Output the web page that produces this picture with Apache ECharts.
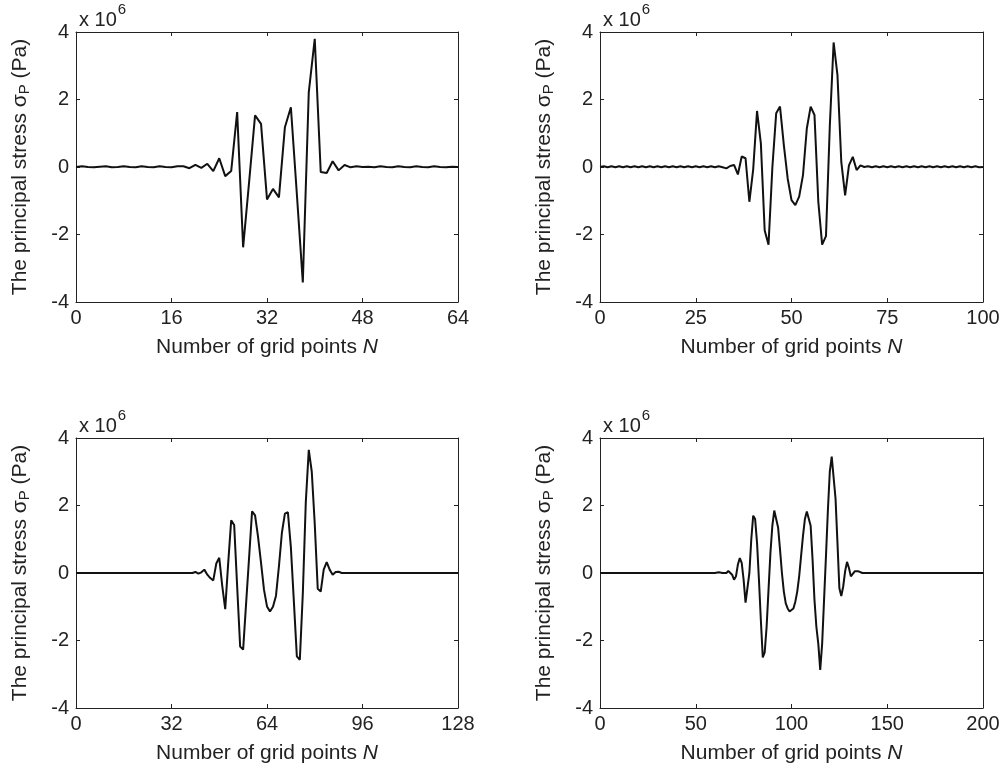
<!DOCTYPE html>
<html>
<head>
<meta charset="utf-8">
<script src="https://cdn.jsdelivr.net/npm/echarts@6/dist/echarts.min.js"></script>
<style>
html,body{margin:0;padding:0;background:#fff;}
#chart{width:1004px;height:773px;}
</style>
</head>
<body>
<div id="chart"></div>
<script>
// Values in units of 1e6 Pa, index = grid point N
const sigma64 = [
  0,0.02,0,-0.01,0.01,0.02,-0.01,0,0.02,0,
  -0.01,0.02,0,-0.01,0.02,0,-0.01,0.02,0.02,-0.035,
  0.065,-0.025,0.095,-0.12,0.26,-0.27,-0.12,1.63,-2.38,-0.45,
  1.53,1.28,-0.96,-0.65,-0.9,1.18,1.77,-0.8,-3.42,2.22,
  3.80,-0.15,-0.18,0.17,-0.10,0.06,-0.01,0.02,0,0.01,
  -0.01,0.02,0,-0.01,0.02,0,-0.01,0.02,0,-0.01,
  0.02,0,-0.01,0.01,0];
const sigma100 = [
  0,0.02,-0.01,0.02,-0.01,0.02,-0.01,0.02,-0.01,0.02,
  -0.01,0.02,-0.01,0.02,-0.01,0.02,-0.01,0.02,-0.01,0.02,
  -0.01,0.02,-0.01,0.02,-0.01,0.02,-0.01,0.02,-0.01,0.02,
  -0.01,0.02,-0.01,-0.04,0.03,0.06,-0.22,0.31,0.26,-1.03,
  -0.07,1.66,0.70,-1.88,-2.30,-0.02,1.59,1.79,0.65,-0.34,
  -0.98,-1.13,-0.88,-0.24,1.14,1.79,1.54,-1.03,-2.30,-2.05,
  1.21,3.69,2.72,0.15,-0.84,0.05,0.30,-0.09,0.05,0,
  0.02,-0.01,0.02,-0.01,0.02,-0.01,0.02,-0.01,0.02,-0.01,
  0.02,-0.01,0.02,-0.01,0.02,-0.01,0.02,-0.01,0.02,-0.01,
  0.02,-0.01,0.02,-0.01,0.02,-0.01,0.02,-0.01,0.02,-0.01,
  0];
const sigma128 = [
  0,0,0,0,0,0,0,0,0,0,
  0,0,0,0,0,0,0,0,0,0,
  0,0,0,0,0,0,0,0,0,0,
  0,0,0,0,0,0,0,0,0,0,
  0.03,-0.02,0.02,0.10,-0.05,-0.15,-0.22,0.28,0.45,-0.38,
  -1.07,0.30,1.56,1.42,-0.40,-2.18,-2.27,-0.90,0.46,1.83,
  1.71,1.07,0.30,-0.50,-0.99,-1.14,-1.00,-0.68,0.20,1.20,
  1.76,1.80,0.76,-0.84,-2.47,-2.57,-0.61,2.10,3.65,3.00,
  1.45,-0.47,-0.55,0.10,0.32,0.10,-0.05,0.03,0.04,0,
  0,0,0,0,0,0,0,0,0,0,
  0,0,0,0,0,0,0,0,0,0,
  0,0,0,0,0,0,0,0,0,0,
  0,0,0,0,0,0,0,0,0];
const sigma200 = [
  0,0,0,0,0,0,0,0,0,0,
  0,0,0,0,0,0,0,0,0,0,
  0,0,0,0,0,0,0,0,0,0,
  0,0,0,0,0,0,0,0,0,0,
  0,0,0,0,0,0,0,0,0,0,
  0,0,0,0,0,0,0,0,0,0,
  0,0,0.02,0.03,0,-0.03,0,0.06,0.10,-0.05,
  -0.20,-0.10,0.25,0.44,0.30,-0.20,-0.88,-0.85,0,1.00,
  1.70,1.60,0.90,-0.20,-1.40,-2.50,-2.35,-1.60,-0.50,0.60,
  1.40,1.85,1.82,1.35,0.70,0,-0.55,-0.90,-1.05,-1.14,
  -1.14,-1.05,-0.85,-0.55,-0.10,0.50,1.10,1.60,1.82,1.85,
  1.40,0.40,-0.80,-1.60,-2.10,-2.87,-2.10,-0.80,0.50,1.85,
  3.00,3.45,3.42,2.20,0.90,-0.45,-0.68,-0.40,0.05,0.33,
  0.15,-0.10,-0.05,0.05,0.07,0.05,0.02,0,0,0,
  0,0,0,0,0,0,0,0,0,0,
  0,0,0,0,0,0,0,0,0,0,
  0,0,0,0,0,0,0,0,0,0,
  0,0,0,0,0,0,0,0,0,0,
  0,0,0,0,0,0,0,0,0,0,
  0,0,0,0,0,0,0,0,0,0,
  0];

const panels = [
  {data: sigma64,  xmax: 64,  xint: 16, left: 76,  top: 32},
  {data: sigma100, xmax: 100, xint: 25, left: 600, top: 32},
  {data: sigma128, xmax: 128, xint: 32, left: 76,  top: 438},
  {data: sigma200, xmax: 200, xint: 50, left: 600, top: 438}
];
const yTicks = {min: -4, max: 4, interval: 2};
const yName = 'The principal stress σ{sub|P} (Pa)';
const xName = 'Number of grid points {it|N}';

const FONT = 'Liberation Sans, Arial, sans-serif';
const FS = 20;
const NFS = 21;
const axisColor = '#222';
const grids = [], xAxes = [], yAxes = [], series = [], graphics = [];

panels.forEach((p, i) => {
  grids.push({left: p.left, top: p.top, width: (i % 2 === 0 ? 382 : 383), height: 270, containLabel: false});
  const tick = {show: true, inside: true, length: 4, lineStyle: {color: axisColor, width: 1}};
  xAxes.push({
    type: 'value', gridIndex: i, position: 'bottom', min: 0, max: p.xmax, interval: p.xint,
    axisLine: {show: true, onZero: false, lineStyle: {color: axisColor, width: 1}},
    axisTick: tick, splitLine: {show: false},
    axisLabel: {color: '#222', fontSize: FS, fontFamily: FONT, margin: 6},
    name: xName, nameLocation: 'middle', nameGap: 35,
    nameTextStyle: {color: '#222', fontSize: NFS, fontFamily: FONT,
      rich: {it: {fontStyle: 'italic', fontSize: NFS, fontFamily: FONT, color: '#222'}}}
  });
  xAxes.push({
    type: 'value', gridIndex: i, position: 'top', min: 0, max: p.xmax, interval: p.xint,
    axisLine: {show: true, onZero: false, lineStyle: {color: axisColor, width: 1}},
    axisTick: tick, axisLabel: {show: false}, splitLine: {show: false}
  });
  yAxes.push({
    type: 'value', gridIndex: i, position: 'left', min: yTicks.min, max: yTicks.max, interval: yTicks.interval,
    axisLine: {show: true, onZero: false, lineStyle: {color: axisColor, width: 1}},
    axisTick: tick, splitLine: {show: false},
    axisLabel: {color: '#222', fontSize: FS, fontFamily: FONT, margin: 7},
    name: yName, nameLocation: 'middle', nameRotate: 90, nameGap: 44,
    nameTextStyle: {color: '#222', fontSize: NFS, fontFamily: FONT,
      rich: {sub: {fontSize: 15, fontFamily: FONT, color: '#222', verticalAlign: 'bottom', padding: [8, 0, 0, 0]}}}
  });
  yAxes.push({
    type: 'value', gridIndex: i, position: 'right', min: yTicks.min, max: yTicks.max, interval: yTicks.interval,
    axisLine: {show: true, onZero: false, lineStyle: {color: axisColor, width: 1}},
    axisTick: tick, axisLabel: {show: false}, splitLine: {show: false}
  });
  series.push({
    type: 'line', xAxisIndex: 2 * i, yAxisIndex: 2 * i, symbol: 'none',
    data: p.data.map((v, n) => [n, v]),
    lineStyle: {color: '#111', width: 2}, animation: false
  });
  graphics.push({
    type: 'text', left: p.left + 3, top: p.top - 30,
    style: {
      text: '{a|x 10}{s|6}', fill: '#222',
      rich: {a: {fontSize: FS, fontFamily: FONT, fill: '#222', padding: [8, 0, 0, 0]},
             s: {fontSize: 15, fontFamily: FONT, fill: '#222', verticalAlign: 'top', padding: [0, 0, 10, 1]}}
    }
  });
});

const chart = echarts.init(document.getElementById('chart'), null, {renderer: 'canvas'});
chart.setOption({
  animation: false,
  backgroundColor: '#fff',
  grid: grids, xAxis: xAxes, yAxis: yAxes, series: series, graphic: graphics
});
</script>
</body>
</html>
